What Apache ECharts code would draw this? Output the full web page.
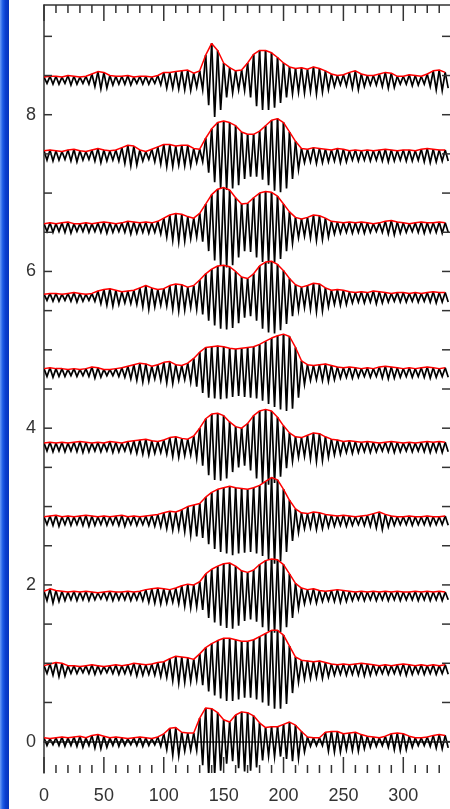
<!DOCTYPE html>
<html>
<head>
<meta charset="utf-8">
<script src="https://cdn.jsdelivr.net/npm/echarts@6/dist/echarts.min.js"></script>
<style>
  html, body { margin: 0; padding: 0; background: #fff; }
  #chart { width: 450px; height: 809px; }
</style>
</head>
<body>
<div id="chart"></div>
<script>
// sample positions along the trace
const xs = [0, 5, 10, 15, 20, 25, 30, 35, 40, 45,
  50, 55, 60, 65, 70, 75, 80, 85, 90, 95,
  100, 105, 110, 115, 120, 125, 130, 135, 140, 145,
  150, 155, 160, 165, 170, 175, 180, 185, 190, 195,
  200, 205, 210, 215, 220, 225, 230, 235, 240, 245,
  250, 255, 260, 265, 270, 275, 280, 285, 290, 295,
  300, 305, 310, 315, 320, 325, 330, 335];

// vertical offset of each trace (y units)
const offsets = [0, 0.92, 1.86, 2.82, 3.76, 4.71, 5.67, 6.56, 7.48, 8.44];

// envelope amplitude (bottom trace first)
const env0 = [.05, .04, .05, .06, .05, .06, .07, .05, .08, .09,
  .07, .05, .06, .05, .04, .05, .06, .05, .04, .06,
  .10, .17, .18, .12, .11, .11, .30, .43, .42, .37,
  .28, .25, .34, .38, .37, .33, .24, .18, .19, .19,
  .22, .25, .21, .13, .06, .05, .05, .12, .13, .13,
  .10, .11, .12, .09, .07, .06, .05, .07, .10, .11,
  .10, .07, .05, .05, .06, .08, .09, .08];
const env1 = [.05, .07, .09, .08, .05, .05, .04, .05, .06, .05,
  .04, .05, .06, .05, .06, .08, .07, .06, .07, .09,
  .10, .14, .17, .16, .15, .13, .20, .28, .33, .37,
  .40, .40, .38, .36, .36, .38, .42, .46, .50, .50,
  .44, .30, .16, .12, .11, .10, .11, .09, .07, .06,
  .07, .06, .07, .08, .07, .06, .05, .06, .05, .06,
  .07, .06, .05, .06, .05, .06, .05, .06];
const env2 = [.06, .09, .07, .06, .05, .06, .05, .06, .05, .04,
  .05, .06, .05, .05, .06, .05, .06, .08, .09, .10,
  .09, .08, .10, .13, .15, .14, .18, .28, .34, .38,
  .41, .42, .38, .32, .30, .33, .40, .45, .47, .46,
  .40, .28, .16, .10, .08, .09, .07, .06, .07, .08,
  .07, .06, .05, .06, .05, .06, .05, .06, .05, .06,
  .05, .05, .06, .05, .06, .05, .06, .05];
const env3 = [.05, .06, .07, .05, .06, .05, .06, .07, .06, .05,
  .06, .05, .06, .07, .05, .06, .05, .06, .07, .08,
  .10, .12, .11, .14, .18, .20, .22, .30, .36, .40,
  .42, .44, .42, .41, .40, .42, .45, .50, .55, .52,
  .40, .26, .15, .10, .09, .11, .10, .08, .07, .06,
  .07, .06, .05, .06, .07, .09, .11, .08, .06, .05,
  .05, .06, .05, .05, .06, .05, .05, .06];
const env4 = [.05, .06, .05, .06, .05, .06, .07, .06, .05, .06,
  .05, .07, .06, .05, .07, .08, .09, .10, .08, .07,
  .09, .12, .13, .11, .10, .14, .24, .36, .42, .43,
  .40, .32, .26, .24, .30, .40, .46, .48, .46, .38,
  .27, .18, .13, .12, .15, .18, .17, .13, .10, .09,
  .07, .08, .07, .06, .07, .06, .05, .06, .07, .06,
  .05, .06, .05, .06, .07, .06, .07, .06];
const env5 = [.05, .06, .05, .05, .04, .05, .04, .05, .07, .06,
  .04, .04, .05, .06, .08, .10, .12, .11, .08, .10,
  .13, .14, .10, .09, .12, .18, .26, .32, .33, .34,
  .33, .31, .30, .31, .32, .33, .36, .40, .44, .47,
  .49, .46, .32, .15, .10, .09, .10, .11, .09, .07,
  .06, .07, .06, .05, .06, .05, .07, .08, .07, .06,
  .05, .06, .05, .06, .07, .06, .05, .06];
const env6 = [.04, .05, .05, .04, .05, .06, .05, .04, .05, .08,
  .10, .11, .09, .07, .08, .09, .12, .15, .12, .10,
  .11, .15, .17, .16, .13, .15, .22, .30, .36, .40,
  .41, .39, .33, .26, .24, .30, .40, .45, .46, .42,
  .34, .24, .16, .13, .15, .18, .17, .12, .09, .10,
  .09, .07, .06, .07, .06, .08, .07, .06, .05, .06,
  .06, .05, .06, .05, .06, .07, .06, .06];
const env7 = [.05, .06, .05, .06, .07, .05, .05, .06, .05, .06,
  .07, .06, .05, .06, .08, .07, .06, .07, .06, .08,
  .12, .16, .18, .17, .14, .12, .18, .30, .42, .49,
  .51, .48, .38, .30, .31, .38, .44, .46, .45, .40,
  .30, .20, .13, .11, .13, .16, .15, .12, .08, .07,
  .06, .07, .06, .07, .06, .05, .06, .08, .09, .07,
  .06, .05, .06, .07, .06, .06, .07, .06];
const env8 = [.06, .07, .06, .05, .07, .08, .06, .05, .07, .09,
  .07, .06, .07, .10, .13, .12, .07, .05, .08, .11,
  .14, .14, .12, .13, .13, .09, .08, .22, .34, .42,
  .44, .42, .38, .30, .27, .27, .31, .38, .45, .47,
  .42, .30, .18, .09, .08, .10, .09, .08, .07, .09,
  .08, .06, .07, .06, .07, .06, .07, .08, .07, .06,
  .07, .07, .06, .08, .09, .08, .07, .07];
const env9 = [.04, .05, .05, .04, .06, .05, .04, .05, .08, .11,
  .10, .06, .05, .05, .06, .04, .05, .05, .04, .06,
  .10, .10, .11, .12, .13, .09, .12, .32, .47, .38,
  .22, .16, .12, .13, .22, .33, .38, .38, .35, .29,
  .22, .17, .15, .16, .14, .17, .15, .12, .08, .06,
  .07, .10, .12, .08, .06, .06, .08, .10, .09, .05,
  .05, .07, .06, .05, .08, .12, .13, .10];

const envs = [env0, env1, env2, env3, env4, env5, env6, env7, env8, env9];

// axis ticks and labels
const xMinorTicks = [0, 10, 20, 30, 40, 50, 60, 70, 80, 90, 100, 110, 120, 130, 140, 150, 160,
  170, 180, 190, 200, 210, 220, 230, 240, 250, 260, 270, 280, 290, 300, 310, 320, 330];
const xMajorTicks = [0, 50, 100, 150, 200, 250, 300];
const yTicks = [0, 0.5, 1, 1.5, 2, 2.5, 3, 3.5, 4, 4.5, 5, 5.5, 6, 6.5, 7, 7.5, 8, 8.5, 9];
const yLabels = [0, 2, 4, 6, 8];

const X_MAX = 339;
const Y_MIN = -0.4;
const Y_MAX = 9.4;
const chart = echarts.init(document.getElementById('chart'));

const labelFont = { fontFamily: 'Liberation Sans', fontSize: 18, color: '#333' };
const axisLine = { show: true, lineStyle: { color: '#333', width: 1.5 } };
const tickColor = '#333';

function tickLine(x1, y1, x2, y2) {
  return { type: 'line', shape: { x1, y1, x2, y2 }, style: { stroke: tickColor, lineWidth: 1.5 } };
}

const series = [];
envs.forEach((env, k) => {
  const off = offsets[k];
  // black wiggle: zigzag from each sample's crest down to its trough and up to the next crest
  series.push({
    type: 'custom',
    clip: true,
    silent: true,
    data: xs.map((x, i) => [x, off - env[i], off + env[i]]),
    encode: { x: 0, y: [1, 2] },
    renderItem: (params, api) => {
      const i = params.dataIndex;
      const pts = [
        api.coord([xs[i], off + env[i]]),
        api.coord([xs[i] + 2.5, off - env[i]])
      ];
      if (i + 1 < xs.length) pts.push(api.coord([xs[i + 1], off + env[i + 1]]));
      return {
        type: 'polyline',
        shape: { points: pts },
        style: { stroke: '#000', lineWidth: 1.7, fill: null }
      };
    },
    z: 2
  });
  // red envelope
  series.push({
    type: 'line',
    data: xs.map((x, i) => [x, off + env[i]]),
    showSymbol: false,
    silent: true,
    lineStyle: { color: '#ff0000', width: 1.5 },
    z: 3
  });
});

// inward ticks on the left and right y axes
series.push({
  type: 'custom',
  silent: true,
  clip: false,
  data: yTicks.map(v => [0, v]),
  encode: { x: 0, y: 1 },
  renderItem: (params, api) => {
    const l = api.coord([0, api.value(1)]);
    const r = api.coord([X_MAX, api.value(1)]);
    return {
      type: 'group',
      children: [tickLine(l[0], l[1], l[0] + 8, l[1]), tickLine(r[0] - 8, r[1], r[0], r[1])]
    };
  },
  z: 4
});

// inward ticks on the bottom and top x axes (long at every 50)
series.push({
  type: 'custom',
  silent: true,
  clip: false,
  data: xMinorTicks.map(v => [v, 0]),
  encode: { x: 0, y: 1 },
  renderItem: (params, api) => {
    const v = api.value(0);
    const len = xMajorTicks.indexOf(v) >= 0 ? 16 : 8;
    const b = api.coord([v, Y_MIN]);
    const t = api.coord([v, Y_MAX]);
    return {
      type: 'group',
      children: [tickLine(b[0], b[1], b[0], b[1] - len), tickLine(t[0], t[1], t[0], t[1] + len)]
    };
  },
  z: 4
});

const option = {
  animation: false,
  backgroundColor: '#fff',
  grid: { left: 44, top: 5, width: 411, height: 768 },
  xAxis: [{
    type: 'value', position: 'bottom', min: 0, max: X_MAX,
    axisLine: axisLine,
    axisTick: { show: false },
    axisLabel: Object.assign({ show: true, margin: 14, customValues: xMajorTicks }, labelFont),
    splitLine: { show: false }
  }, {
    type: 'value', position: 'top', min: 0, max: X_MAX,
    axisLine: axisLine,
    axisTick: { show: false },
    axisLabel: { show: false },
    splitLine: { show: false }
  }],
  yAxis: [{
    type: 'value', position: 'left', min: Y_MIN, max: Y_MAX,
    axisLine: axisLine,
    axisTick: { show: false },
    axisLabel: Object.assign({ show: true, margin: 8, customValues: yLabels }, labelFont),
    splitLine: { show: false }
  }],
  graphic: [{
    type: 'rect',
    shape: { x: 0, y: 0, width: 9, height: 809 },
    style: {
      fill: new echarts.graphic.LinearGradient(0, 0, 1, 0, [
        { offset: 0, color: '#6d9cf4' },
        { offset: 0.3, color: '#1f5ee6' },
        { offset: 0.6, color: '#0a3fd0' },
        { offset: 1, color: '#0633b8' }
      ])
    },
    z: 10
  }],
  series: series
};

chart.setOption(option);
</script>
</body>
</html>
